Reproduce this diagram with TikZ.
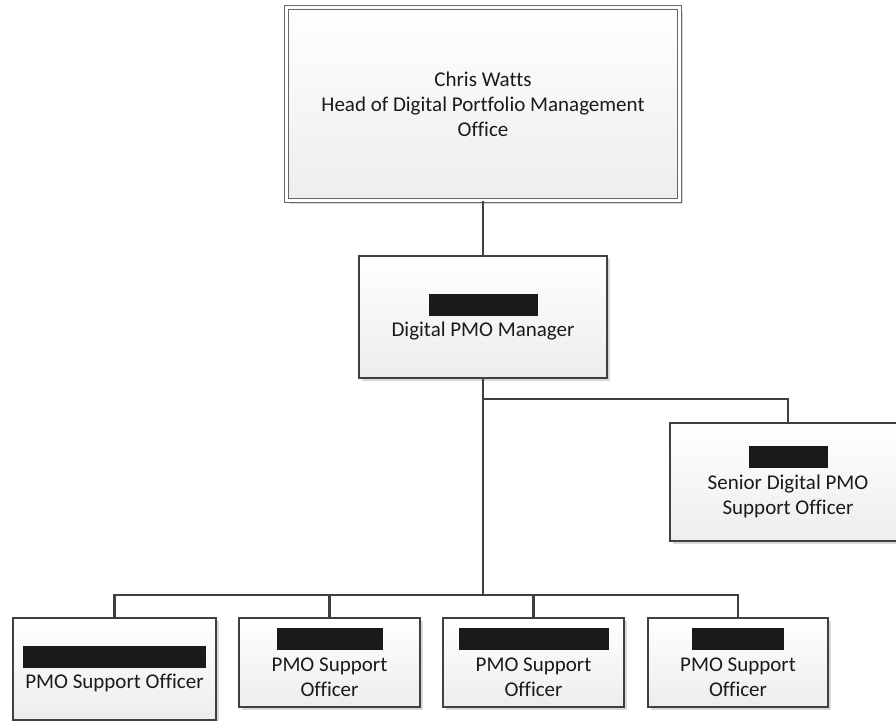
\documentclass[tikz,border=0pt]{standalone}
\usepackage{fontspec}
\setmainfont[Ligatures=NoCommon]{Carlito}
\usetikzlibrary{shadows}
\definecolor{edge}{HTML}{404040}
\definecolor{txt}{HTML}{1A1A1A}
\tikzset{
  orgbox/.style={draw=edge, line width=2.2pt, top color=white, bottom color=black!7,
    drop shadow={shadow xshift=3pt, shadow yshift=-3pt, fill=black!25, opacity=0.6},
    inner sep=0pt, align=center, text=txt, font=\fontsize{21}{25}\selectfont},
  headbox/.style={draw=black!60, line width=0.9pt, double=white, double distance=3.2pt,
    top color=white, bottom color=black!7,
    drop shadow={shadow xshift=3pt, shadow yshift=-3pt, fill=black!25, opacity=0.6},
    inner sep=0pt, align=center, text=txt, font=\fontsize{21}{25}\selectfont},
  link/.style={draw=edge, line width=2.2pt}
}
\newcommand{\redact}[1]{\rule[-4pt]{#1}{22pt}}
\begin{document}
\begin{tikzpicture}[x=1pt,y=-1pt]
\useasboundingbox (0,0) rectangle (896,720);
\node[headbox, minimum width=393pt, minimum height=193pt] (head) at (483,104)
  {Chris Watts\\Head of Digital Portfolio Management\\Office};
\node[orgbox, minimum width=248pt, minimum height=122pt] (mgr) at (483,317)
  {\redact{109pt}\\Digital PMO Manager};
\node[orgbox, minimum width=236pt, minimum height=118pt] (senior) at (788,482)
  {\redact{79pt}\\Senior Digital PMO\\Support Officer};
\node[orgbox, minimum width=203pt, minimum height=102pt] (b1) at (114.5,669)
  {\redact{183pt}\\PMO Support Officer};
\node[orgbox, minimum width=181pt, minimum height=89pt] (b2) at (329.5,662.5)
  {\redact{106pt}\\PMO Support\\Officer};
\node[orgbox, minimum width=181pt, minimum height=89pt] (b3) at (533.5,662.5)
  {\redact{150pt}\\PMO Support\\Officer};
\node[orgbox, minimum width=180pt, minimum height=89pt] (b4) at (738,662.5)
  {\redact{92pt}\\PMO Support\\Officer};
\coordinate (j1) at (483,399);
\coordinate (j2) at (483,595);
\draw[link] (head.south) -- (mgr.north);
\draw[link] (mgr.south) -- (j2);
\draw[link] (j1) -| (senior.north);
\draw[link] (j2) -| (b1.north);
\draw[link] (j2) -| (b2.north);
\draw[link] (j2) -| (b3.north);
\draw[link] (j2) -| (b4.north);
\end{tikzpicture}
\end{document}
